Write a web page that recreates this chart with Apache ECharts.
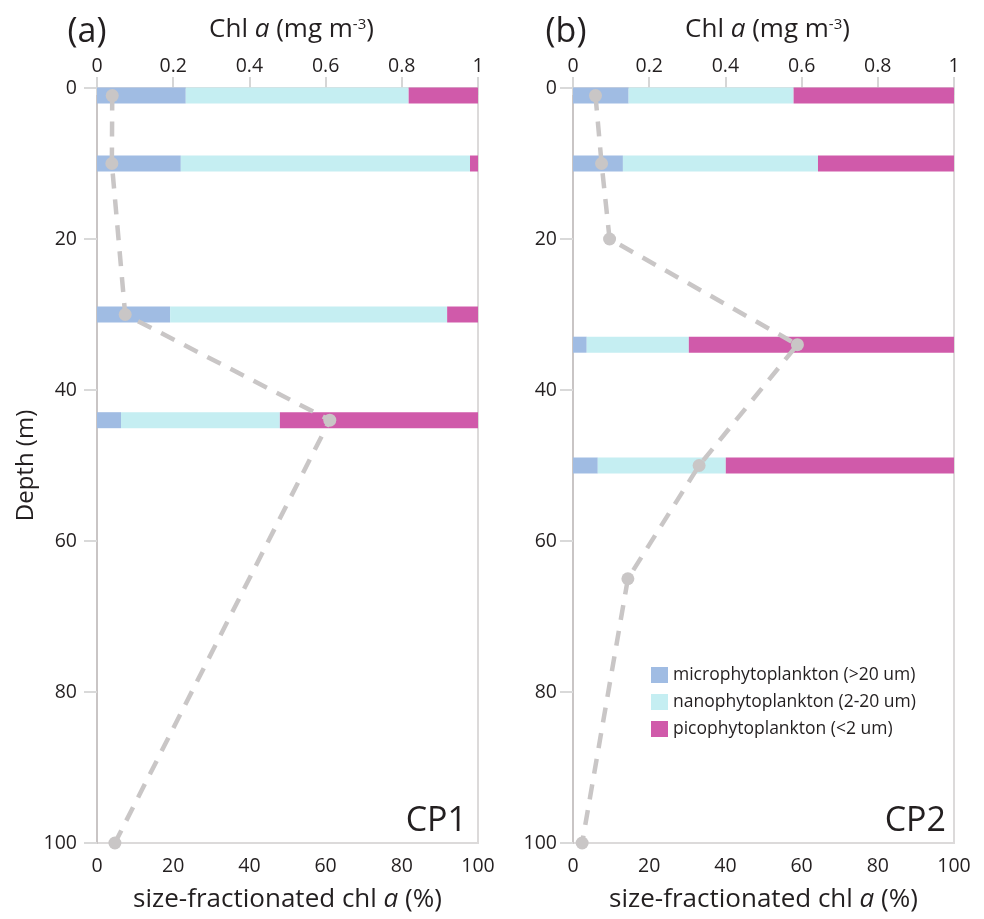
<!DOCTYPE html>
<html><head><meta charset="utf-8">
<script src="https://cdn.jsdelivr.net/npm/echarts@6/dist/echarts.min.js"></script>
<style>html,body{margin:0;padding:0;background:#fff}#c{width:984px;height:919px}</style>
</head><body><div id="c"></div>
<script>
// ---------- data ----------
const fractionNames = ['microphytoplankton (>20 um)', 'nanophytoplankton (2-20 um)', 'picophytoplankton (<2 um)'];
const fractionColors = ['#a0bce3', '#c5eef2', '#d05aaa'];

// Panel (a) CP1 – size-fractionated chl a (%)
const barDepthsA = [1, 10, 30, 44];
const microA = [23.3, 22.0, 19.2, 6.3];
const nanoA  = [58.5, 75.9, 72.7, 41.7];
const picoA  = [18.2, 2.1, 8.1, 52.0];
// Panel (a) CP1 – Chl a profile (mg m-3)
const chlDepthsA = [1, 10, 30, 44, 100];
const chlA = [0.040, 0.039, 0.074, 0.611, 0.047];

// Panel (b) CP2
const barDepthsB = [1, 10, 34, 50];
const microB = [14.6, 13.1, 3.6, 6.5];
const nanoB  = [43.3, 51.2, 26.8, 33.6];
const picoB  = [42.1, 35.7, 69.6, 59.9];
const chlDepthsB = [1, 10, 20, 34, 50, 65, 100];
const chlB = [0.059, 0.075, 0.096, 0.589, 0.331, 0.144, 0.024];

const panelLabels = ['(a)', '(b)'];
const stationLabels = ['CP1', 'CP2'];

// ---------- styles ----------
const FONT = '"Open Sans"';
const TXT = '#231f20';
const GRAYDOT = '#c9c6c6';

function barSeries(depths, fracs, xi, yi) {
  const out = [];
  const starts = depths.map(() => 0);
  fracs.forEach((vals, k) => {
    const data = depths.map((d, i) => {
      const s = starts[i];
      const e = s + vals[i];
      starts[i] = e;
      return [s, d, e];
    });
    out.push({
      type: 'custom', name: fractionNames[k], xAxisIndex: xi, yAxisIndex: yi,
      itemStyle: { color: fractionColors[k] }, clip: false, z: 2,
      encode: { x: [0, 2], y: 1 },
      renderItem: function (params, api) {
        const p0 = api.coord([api.value(0), api.value(1)]);
        const p1 = api.coord([api.value(2), api.value(1)]);
        const h = 16;
        return { type: 'rect', shape: { x: p0[0], y: p0[1] - h / 2, width: p1[0] - p0[0], height: h },
                 style: { fill: fractionColors[k] } };
      },
      data: data
    });
  });
  return out;
}
function lineSeries(depths, chl, xi, yi) {
  return {
    type: 'line', xAxisIndex: xi, yAxisIndex: yi, z: 5,
    data: depths.map((d, i) => [chl[i], d]),
    symbol: 'circle', symbolSize: 13, showSymbol: true,
    itemStyle: { color: GRAYDOT },
    lineStyle: { color: GRAYDOT, width: 4.5, type: [15, 11] },
    clip: false, silent: true
  };
}
const richName = {
  n: { fontSize: 26, fontFamily: FONT, color: TXT },
  i: { fontSize: 26, fontFamily: FONT, color: TXT, fontStyle: 'italic' },
  s: { fontSize: 15, fontFamily: FONT, color: TXT, verticalAlign: 'top' }
};
function pctAxis(gi) {
  return {
    type: 'value', gridIndex: gi, position: 'bottom', min: 0, max: 100, interval: 20,
    axisLine: { show: true, lineStyle: { color: '#dcdada', width: 2 } },
    axisTick: { show: true, length: 7, lineStyle: { color: '#d6d6d6', width: 2 } },
    axisLabel: { fontSize: 19.5, color: TXT, fontFamily: FONT, margin: 13 },
    splitLine: { show: false },
    name: '{n|size-fractionated chl }{i|a}{n| (%)}', nameLocation: 'middle', nameGap: 44,
    nameTextStyle: { rich: richName }
  };
}
function chlAxis(gi) {
  return {
    type: 'value', gridIndex: gi, position: 'top', min: 0, max: 1, interval: 0.2,
    axisLine: { show: true, lineStyle: { color: '#dcdada', width: 2 } },
    axisTick: { show: true, length: 11, lineStyle: { color: '#d6d6d6', width: 2 } },
    axisLabel: { fontSize: 19.5, color: TXT, fontFamily: FONT, margin: 12 },
    splitLine: { show: false },
    name: '{n|Chl }{i|a}{n| (mg m}{s|-3}{n|)}', nameLocation: 'middle', nameGap: 45,
    nameTextStyle: { rich: richName, padding: [0, 0, 0, 8] }
  };
}
function depthAxis(gi, margin, withName) {
  const ax = {
    type: 'value', gridIndex: gi, inverse: true, min: 0, max: 100, interval: 20,
    axisLine: { show: true, lineStyle: { color: '#c9c5c5', width: 2 } },
    axisTick: { show: true, length: 13, lineStyle: { color: '#d9d9d9', width: 2 } },
    axisLabel: { fontSize: 19.5, color: TXT, fontFamily: FONT, margin: margin },
    splitLine: { show: false }
  };
  if (withName) {
    ax.name = 'Depth (m)'; ax.nameLocation = 'middle'; ax.nameGap = 59; ax.nameRotate = 90;
    ax.nameTextStyle = { fontSize: 24, fontFamily: FONT, color: TXT };
  }
  return ax;
}

const option = {
  backgroundColor: '#fff',
  animation: false,
  grid: [
    { left: 97, top: 88, width: 381, height: 755, show: true, borderColor: '#dcdada', borderWidth: 2, outerBoundsMode: 'none' },
    { left: 573, top: 88, width: 381, height: 755, show: true, borderColor: '#dcdada', borderWidth: 2, outerBoundsMode: 'none' }
  ],
  xAxis: [pctAxis(0), chlAxis(0), pctAxis(1), chlAxis(1)],
  yAxis: [depthAxis(0, 20, true), depthAxis(1, 16, false)],
  legend: {
    data: fractionNames, orient: 'vertical', left: 651, top: 666, padding: 0,
    itemWidth: 17, itemHeight: 16, itemGap: 9,
    icon: 'rect', selectedMode: false,
    textStyle: { fontSize: 17.5, color: TXT, fontFamily: FONT }
  },
  graphic: [
    { type: 'text', x: 87, y: 32, style: { text: panelLabels[0], font: '34px ' + FONT, fill: TXT, align: 'center', verticalAlign: 'middle' } },
    { type: 'text', x: 566, y: 32, style: { text: panelLabels[1], font: '34px ' + FONT, fill: TXT, align: 'center', verticalAlign: 'middle' } },
    { type: 'text', x: 467, y: 821, style: { text: stationLabels[0], font: '34px ' + FONT, fill: TXT, align: 'right', verticalAlign: 'middle' } },
    { type: 'text', x: 946, y: 821, style: { text: stationLabels[1], font: '34px ' + FONT, fill: TXT, align: 'right', verticalAlign: 'middle' } }
  ],
  series: [].concat(
    barSeries(barDepthsA, [microA, nanoA, picoA], 0, 0),
    [lineSeries(chlDepthsA, chlA, 1, 0)],
    barSeries(barDepthsB, [microB, nanoB, picoB], 2, 1),
    [lineSeries(chlDepthsB, chlB, 3, 1)]
  )
};
const chart = echarts.init(document.getElementById('c'), null, { renderer: 'canvas' });
chart.setOption(option);
</script>
</body></html>
